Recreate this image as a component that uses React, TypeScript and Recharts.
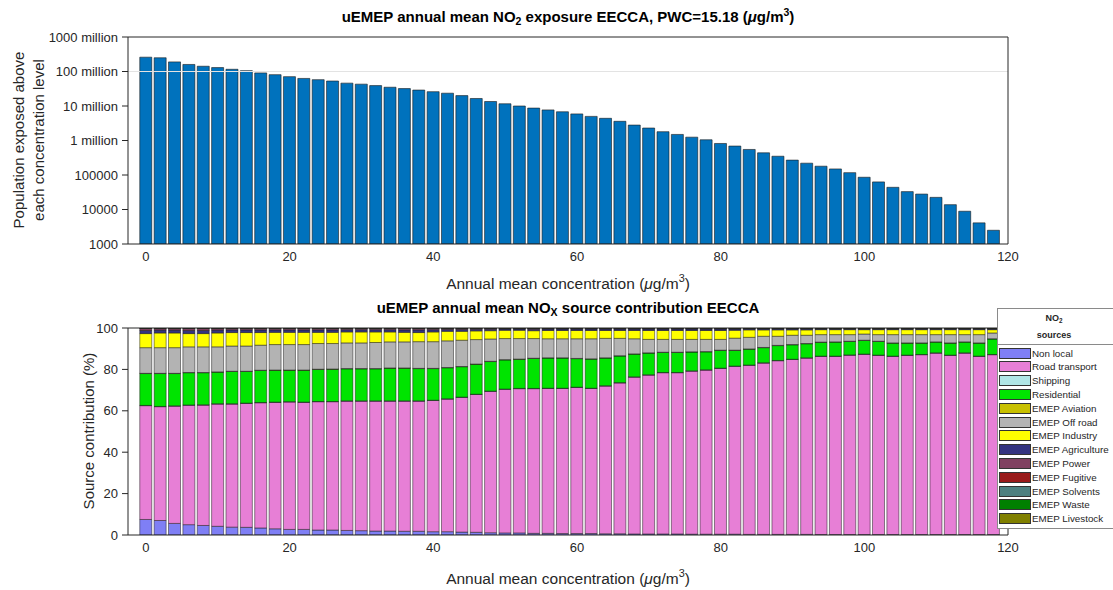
import React from "react";
import {
  BarChart,
  Bar,
  XAxis,
  YAxis,
  ReferenceLine,
} from "recharts";

// concentration bins (µg/m3)
const concentration = [
  0, 2, 4, 6, 8, 10, 12, 14, 16, 18,
  20, 22, 24, 26, 28, 30, 32, 34, 36, 38,
  40, 42, 44, 46, 48, 50, 52, 54, 56, 58,
  60, 62, 64, 66, 68, 70, 72, 74, 76, 78,
  80, 82, 84, 86, 88, 90, 92, 94, 96, 98,
  100, 102, 104, 106, 108, 110, 112, 114, 116, 118,
];

// population exposed above each concentration level
const population = [
  2.6e8, 2.5e8, 1.9e8, 1.6e8, 1.42e8, 1.3e8, 1.16e8, 1.06e8, 9.1e7, 8.1e7,
  7.1e7, 6.3e7, 5.8e7, 5.3e7, 4.6e7, 4.3e7, 3.9e7, 3.5e7, 3.2e7, 2.9e7,
  2.6e7, 2.35e7, 2.0e7, 1.65e7, 1.35e7, 1.16e7, 1.0e7, 8.7e6, 7.7e6, 6.8e6,
  5.9e6, 5.0e6, 4.4e6, 3.6e6, 2.8e6, 2.3e6, 1.8e6, 1.5e6, 1.25e6, 1.05e6,
  8.2e5, 6.9e5, 5.5e5, 4.4e5, 3.5e5, 2.7e5, 2.2e5, 1.8e5, 1.5e5, 1.17e5,
  8.6e4, 6.3e4, 4.4e4, 3.3e4, 2.8e4, 2.25e4, 1.38e4, 8.9e3, 4.1e3, 2.5e3,
];

// source contributions (%)
const nonLocal = [
  7.5, 7.0, 5.6, 5.0, 4.6, 4.2, 3.8, 3.7, 3.4, 3.0,
  2.7, 2.7, 2.4, 2.4, 2.2, 2.1, 1.9, 1.9, 1.8, 1.8,
  1.6, 1.6, 1.4, 1.3, 1.1, 1.0, 1.0, 0.8, 0.8, 0.7,
  0.7, 0.7, 0.6, 0.6, 0.5, 0.5, 0.5, 0.5, 0.4, 0.4,
  0.4, 0.4, 0.3, 0.3, 0.3, 0.3, 0.3, 0.2, 0.2, 0.2,
  0.2, 0.2, 0.2, 0.2, 0.2, 0.2, 0.2, 0.2, 0.2, 0.2,
];
const roadTransport = [
  55.0, 55.0, 56.7, 57.7, 58.2, 59.1, 59.5, 59.9, 60.5, 61.1,
  61.6, 61.4, 62.0, 62.0, 62.5, 62.6, 62.8, 62.8, 62.9, 62.9,
  63.4, 64.1, 65.1, 66.6, 68.3, 69.4, 69.7, 69.9, 70.0, 70.1,
  70.6, 70.1, 71.4, 72.9, 75.8, 76.8, 77.9, 77.9, 78.8, 79.3,
  80.1, 81.1, 81.7, 82.8, 83.9, 84.5, 85.2, 86.1, 86.1, 86.7,
  87.1, 86.6, 86.1, 86.6, 86.9, 87.7, 86.6, 87.7, 86.1, 86.9,
];
const shipping = [
  0.1, 0.1, 0.1, 0.1, 0.1, 0.1, 0.1, 0.1, 0.1, 0.1,
  0.1, 0.1, 0.1, 0.1, 0.1, 0.1, 0.1, 0.1, 0.1, 0.1,
  0.1, 0.1, 0.1, 0.1, 0.1, 0.1, 0.1, 0.1, 0.1, 0.1,
  0.1, 0.1, 0.1, 0.1, 0.1, 0.1, 0.1, 0.1, 0.1, 0.1,
  0.1, 0.1, 0.1, 0.1, 0.1, 0.1, 0.1, 0.1, 0.1, 0.1,
  0.1, 0.1, 0.1, 0.1, 0.1, 0.1, 0.1, 0.1, 0.1, 0.1,
];
const residential = [
  15.4, 15.9, 15.6, 15.6, 15.5, 15.3, 15.6, 15.3, 15.5, 15.4,
  15.2, 15.4, 15.5, 15.6, 15.5, 15.5, 15.5, 15.8, 15.8, 15.6,
  15.3, 15.0, 14.7, 14.5, 14.3, 14.1, 14.1, 14.5, 14.6, 14.6,
  13.8, 14.1, 13.4, 12.9, 11.0, 10.5, 9.7, 9.7, 9.1, 8.7,
  8.6, 7.6, 7.7, 7.3, 7.2, 7.0, 6.8, 6.7, 6.8, 6.5,
  6.6, 6.6, 6.3, 5.8, 5.5, 5.2, 5.8, 5.2, 6.3, 7.5,
];
const aviation = [
  0.1, 0.1, 0.1, 0.1, 0.1, 0.1, 0.1, 0.1, 0.1, 0.1,
  0.1, 0.1, 0.1, 0.1, 0.1, 0.1, 0.1, 0.1, 0.1, 0.1,
  0.1, 0.1, 0.1, 0.1, 0.1, 0.1, 0.1, 0.1, 0.1, 0.1,
  0.1, 0.1, 0.1, 0.1, 0.1, 0.1, 0.1, 0.1, 0.1, 0.1,
  0.1, 0.1, 0.1, 0.1, 0.1, 0.1, 0.1, 0.1, 0.1, 0.1,
  0.1, 0.1, 0.1, 0.1, 0.1, 0.1, 0.1, 0.1, 0.1, 0.1,
];
const offRoad = [
  12.4, 12.4, 12.4, 12.4, 12.4, 12.1, 12.2, 12.2, 12.1, 12.3,
  12.3, 12.3, 12.4, 12.3, 12.4, 12.4, 12.6, 12.6, 12.6, 12.9,
  12.9, 12.9, 12.7, 11.8, 10.8, 10.2, 9.9, 9.5, 9.2, 9.2,
  9.5, 9.7, 9.4, 8.4, 7.3, 6.5, 6.2, 6.2, 6.0, 5.9,
  5.2, 5.8, 5.6, 5.4, 4.4, 4.5, 4.0, 3.6, 3.5, 3.2,
  3.0, 3.2, 4.0, 4.0, 4.0, 3.5, 4.0, 3.5, 4.0, 2.8,
];
const industry = [
  6.8, 7.1, 7.1, 6.4, 6.4, 6.7, 6.5, 6.5, 6.1, 5.9,
  5.9, 5.9, 5.4, 5.4, 5.3, 5.3, 5.1, 4.8, 4.6, 4.4,
  4.7, 4.6, 4.3, 4.2, 4.0, 4.0, 4.0, 3.8, 4.0, 4.0,
  4.0, 4.0, 3.8, 3.8, 4.0, 4.3, 4.3, 4.3, 4.3, 4.3,
  4.3, 3.8, 3.6, 3.1, 3.1, 2.6, 2.6, 2.4, 2.4, 2.4,
  2.1, 2.4, 2.4, 2.4, 2.4, 2.4, 2.4, 2.4, 2.4, 1.6,
];
const agriculture = [
  1.5, 1.4, 1.4, 1.5, 1.5, 1.4, 1.3, 1.3, 1.3, 1.2,
  1.2, 1.2, 1.2, 1.2, 1.1, 1.1, 1.1, 1.1, 1.2, 1.3,
  1.1, 0.9, 0.9, 0.8, 0.7, 0.6, 0.6, 0.7, 0.7, 0.7,
  0.7, 0.7, 0.7, 0.7, 0.7, 0.7, 0.7, 0.7, 0.7, 0.7,
  0.7, 0.6, 0.5, 0.5, 0.5, 0.5, 0.5, 0.4, 0.4, 0.4,
  0.4, 0.4, 0.4, 0.4, 0.4, 0.4, 0.4, 0.4, 0.4, 0.4,
];
const power = [
  1.0, 0.8, 0.8, 1.0, 1.0, 0.8, 0.7, 0.7, 0.7, 0.7,
  0.7, 0.7, 0.7, 0.7, 0.6, 0.6, 0.6, 0.6, 0.7, 0.7,
  0.6, 0.5, 0.5, 0.4, 0.4, 0.3, 0.3, 0.4, 0.3, 0.3,
  0.3, 0.3, 0.3, 0.3, 0.3, 0.3, 0.3, 0.3, 0.3, 0.3,
  0.3, 0.3, 0.2, 0.2, 0.2, 0.2, 0.2, 0.2, 0.2, 0.2,
  0.2, 0.2, 0.2, 0.2, 0.2, 0.2, 0.2, 0.2, 0.2, 0.2,
];
// very small remaining sectors, same in every bin
const fugitive = concentration.map(() => 0.05);
const solvents = concentration.map(() => 0.05);
const waste = concentration.map(() => 0.05);
const livestock = concentration.map(() => 0.05);

const xTicks = [0, 20, 40, 60, 80, 100, 120];
const popTicks = [1e3, 1e4, 1e5, 1e6, 1e7, 1e8, 1e9];
const pctTicks = [0, 20, 40, 60, 80, 100];
const popLabels: Record<number, string> = {
  1e3: "1000",
  1e4: "10000",
  1e5: "100000",
  1e6: "1 million",
  1e7: "10 million",
  1e8: "100 million",
  1e9: "1000 million",
};

const sources = [
  { key: "nonLocal", name: "Non local", color: "#7f7ff5", values: nonLocal },
  { key: "road", name: "Road transport", color: "#e77fd6", values: roadTransport },
  { key: "shipping", name: "Shipping", color: "#b0e6e6", values: shipping },
  { key: "residential", name: "Residential", color: "#00e400", values: residential },
  { key: "aviation", name: "EMEP Aviation", color: "#c8c000", values: aviation },
  { key: "offRoad", name: "EMEP Off road", color: "#b3b3b3", values: offRoad },
  { key: "industry", name: "EMEP Industry", color: "#ffff00", values: industry },
  { key: "agriculture", name: "EMEP Agriculture", color: "#333380", values: agriculture },
  { key: "power", name: "EMEP Power", color: "#804060", values: power },
  { key: "fugitive", name: "EMEP Fugitive", color: "#991a1a", values: fugitive },
  { key: "solvents", name: "EMEP Solvents", color: "#4d8080", values: solvents },
  { key: "waste", name: "EMEP Waste", color: "#008000", values: waste },
  { key: "livestock", name: "EMEP Livestock", color: "#808000", values: livestock },
];

const rows = concentration.map((c, i) => {
  const r: Record<string, number> = { c, pop: population[i] };
  sources.forEach((s) => (r[s.key] = s.values[i]));
  return r;
});

const FONT = '"Liberation Sans", Arial, Helvetica, sans-serif';
const INK = "#262626";
const tickStyle = { fontSize: 13, fill: INK, fontFamily: FONT };

function Sub({ children }: { children: React.ReactNode }) {
  return <span style={{ fontSize: "0.7em", verticalAlign: "-0.3em" }}>{children}</span>;
}
function Sup({ children }: { children: React.ReactNode }) {
  return <span style={{ fontSize: "0.7em", verticalAlign: "0.6em" }}>{children}</span>;
}

const centered = (x: number, y: number): React.CSSProperties => ({
  position: "absolute",
  left: x,
  top: y,
  transform: "translate(-50%, -50%)",
  whiteSpace: "nowrap",
  fontFamily: FONT,
  color: INK,
  lineHeight: 1,
});

const unit = (
  <>
    (<i>μ</i>g/m<Sup>3</Sup>)
  </>
);

export default function App() {
  return (
    <div style={{ position: "relative", width: 1113, height: 590, background: "#fff", overflow: "hidden" }}>
      <style>{"body{margin:0}"}</style>

      {/* top panel */}
      <div style={{ position: "absolute", left: 0, top: 0 }}>
        <BarChart width={1113} height={300} data={rows} margin={{ top: 37, right: 105, bottom: 0, left: 0 }} barSize={12}>
          <XAxis
            xAxisId="b"
            type="number"
            dataKey="c"
            domain={[-2.5, 120]}
            ticks={xTicks}
            allowDataOverflow
            height={56}
            tickLine={false}
            axisLine={{ stroke: INK }}
            tick={tickStyle}
            tickMargin={2}
          />
          <XAxis
            xAxisId="t"
            type="number"
            dataKey="c"
            orientation="top"
            mirror
            domain={[-2.5, 120]}
            ticks={xTicks}
            allowDataOverflow
            tick={false}
            tickSize={5}
            axisLine={{ stroke: INK }}
            tickLine={{ stroke: INK }}
          />
          <YAxis
            yAxisId="l"
            scale="log"
            domain={[1e3, 1e9]}
            ticks={popTicks}
            allowDataOverflow
            width={128}
            tickFormatter={(v: number) => popLabels[v] ?? String(v)}
            tick={tickStyle}
            tickSize={6}
            tickMargin={4}
            axisLine={{ stroke: INK }}
            tickLine={{ stroke: INK }}
          />
          <YAxis
            yAxisId="r"
            orientation="right"
            mirror
            scale="log"
            domain={[1e3, 1e9]}
            ticks={popTicks}
            allowDataOverflow
            tick={false}
            tickSize={5}
            axisLine={{ stroke: INK }}
            tickLine={{ stroke: INK }}
          />
          <ReferenceLine xAxisId="b" yAxisId="l" y={1e8} stroke="#e3e3e3" />
          <Bar
            xAxisId="b"
            yAxisId="l"
            dataKey="pop"
            fill="#0072bd"
            stroke="#1a1a1a"
            strokeWidth={0.6}
            isAnimationActive={false}
          />
        </BarChart>
      </div>

      {/* bottom panel */}
      <div style={{ position: "absolute", left: 0, top: 291 }}>
        <BarChart width={1113} height={300} data={rows} margin={{ top: 37, right: 105, bottom: 0, left: 0 }} barSize={12}>
          <XAxis
            xAxisId="b"
            type="number"
            dataKey="c"
            domain={[-2.5, 120]}
            ticks={xTicks}
            allowDataOverflow
            height={56}
            tickLine={false}
            axisLine={{ stroke: INK }}
            tick={tickStyle}
            tickMargin={2}
          />
          <XAxis
            xAxisId="t"
            type="number"
            dataKey="c"
            orientation="top"
            mirror
            domain={[-2.5, 120]}
            ticks={xTicks}
            allowDataOverflow
            tick={false}
            tickSize={5}
            axisLine={{ stroke: INK }}
            tickLine={{ stroke: INK }}
          />
          <YAxis
            yAxisId="l"
            domain={[0, 100]}
            ticks={pctTicks}
            allowDataOverflow
            width={128}
            tick={tickStyle}
            tickSize={6}
            tickMargin={4}
            axisLine={{ stroke: INK }}
            tickLine={{ stroke: INK }}
          />
          <YAxis
            yAxisId="r"
            orientation="right"
            mirror
            domain={[0, 100]}
            ticks={pctTicks}
            allowDataOverflow
            tick={false}
            tickSize={5}
            axisLine={{ stroke: INK }}
            tickLine={{ stroke: INK }}
          />
          {sources.map((s) => (
            <Bar
              key={s.key}
              xAxisId="b"
              yAxisId="l"
              dataKey={s.key}
              stackId="src"
              fill={s.color}
              stroke="#1a1a1a"
              strokeWidth={0.5}
              isAnimationActive={false}
            />
          ))}
        </BarChart>
      </div>

      {/* titles and axis labels */}
      <div style={{ ...centered(568, 17), fontSize: 15, fontWeight: "bold", color: "#000" }}>
        uEMEP annual mean NO<Sub>2</Sub> exposure EECCA, PWC=15.18 {unit}
      </div>
      <div style={{ ...centered(568, 282), fontSize: 15.5 }}>Annual mean concentration {unit}</div>
      <div style={{ ...centered(28, 140), fontSize: 15, transform: "translate(-50%, -50%) rotate(-90deg)", textAlign: "center", lineHeight: 1.3 }}>
        Population exposed above
        <br />
        each concentration level
      </div>

      <div style={{ ...centered(568, 309), fontSize: 15, fontWeight: "bold", color: "#000" }}>
        uEMEP annual mean NO<Sub>X</Sub> source contribution EECCA
      </div>
      <div style={{ ...centered(568, 577), fontSize: 15.5 }}>Annual mean concentration {unit}</div>
      <div style={{ ...centered(88, 431), fontSize: 15, transform: "translate(-50%, -50%) rotate(-90deg)" }}>
        Source contribution (%)
      </div>

      {/* legend */}
      <div
        style={{
          position: "absolute",
          left: 997,
          top: 308,
          width: 120,
          height: 219,
          background: "#fff",
          border: "1px solid #8a8a8a",
          fontFamily: FONT,
          color: INK,
        }}
      >
        <div style={{ height: 33, borderBottom: "1px solid #8a8a8a", textAlign: "center", fontWeight: "bold", fontSize: 9, lineHeight: "15px", paddingTop: 2, paddingRight: 8 }}>
          NO<Sub>2</Sub>
          <br />
          sources
        </div>
        {sources.map((s, i) => (
          <div key={s.key} style={{ position: "absolute", left: 1, top: 38 + i * 13.8, height: 12, display: "flex", alignItems: "center" }}>
            <div style={{ width: 30, height: 9, background: s.color, border: "1px solid #333", marginRight: 1 }} />
            <span style={{ fontSize: 9.8, whiteSpace: "nowrap" }}>{s.name}</span>
          </div>
        ))}
      </div>
    </div>
  );
}
